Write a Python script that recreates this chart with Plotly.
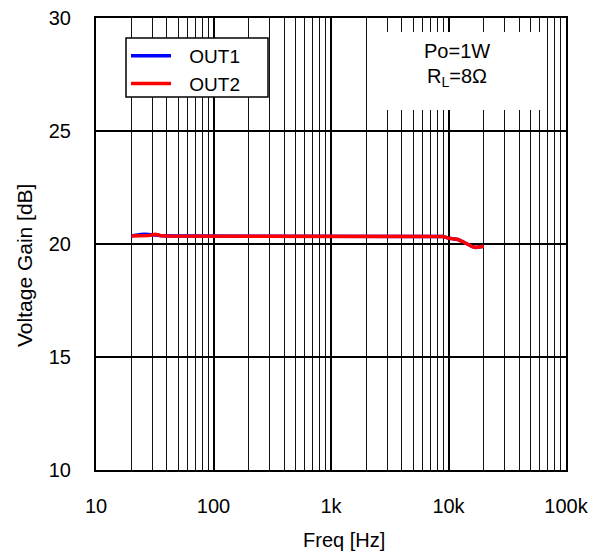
import plotly.graph_objects as go

freq = [20, 22, 24, 26, 28, 30, 32, 34, 36, 40, 50, 63, 80, 100, 200, 500, 1000,
        2000, 5000, 8000, 9000, 10000, 11000, 12000, 13000, 14000, 15000, 16000,
        17000, 18000, 19000, 20000]
out1 = [20.36, 20.40, 20.42, 20.43, 20.42, 20.40, 20.42, 20.39, 20.36, 20.35, 20.35, 20.35,
        20.35, 20.35, 20.35, 20.35, 20.35, 20.35, 20.35, 20.35, 20.33, 20.26, 20.22,
        20.20, 20.12, 20.03, 19.94, 19.88, 19.85, 19.86, 19.88, 19.90]
out2 = [20.35, 20.35, 20.36, 20.37, 20.38, 20.40, 20.43, 20.40, 20.36, 20.35, 20.35, 20.35,
        20.35, 20.35, 20.35, 20.35, 20.35, 20.35, 20.35, 20.35, 20.33, 20.26, 20.22,
        20.20, 20.12, 20.03, 19.94, 19.88, 19.85, 19.86, 19.88, 19.90]
series_names = ["OUT1", "OUT2"]

x_tickvals = [10, 100, 1000, 10000, 100000]
x_ticktext = ["10", "100", "1k", "10k", "100k"]
x_minor = [m * d for d in [10, 100, 1000, 10000] for m in range(2, 10)]
y_tickvals = [10, 15, 20, 25, 30]
x_title = "Freq [Hz]"
y_title = "Voltage Gain [dB]"

font = "Liberation Sans, Arial, sans-serif"

# page body has an 8px margin; figure occupies 592x545 starting at (8, 8)
OFF = 8
W, H = 600 - OFF, 553 - OFF
L, R, T, B = 96 - OFF, 600 - 566, 18 - OFF, 553 - 470
PW, PH = W - L - R, H - T - B


def px_to_paper(x, y):
    return (x - OFF - L) / PW, 1 - (y - OFF - T) / PH


PAD = "\u2002\u2009"  # small visual gap between legend line and label

fig = go.Figure()
fig.add_trace(go.Scatter(x=freq, y=out1, mode="lines", name=PAD + series_names[0],
                         line=dict(color="#0000ff", width=3.5)))
fig.add_trace(go.Scatter(x=freq, y=out2, mode="lines", name=PAD + series_names[1],
                         line=dict(color="#ff0000", width=3.5)))

lx, ly = px_to_paper(126, 37)
fig.update_layout(
    width=W, height=H,
    margin=dict(l=L, r=R, t=T, b=B, autoexpand=False),
    paper_bgcolor="white", plot_bgcolor="white",
    font=dict(family=font, color="black"),
    showlegend=True,
    legend=dict(x=lx, y=ly, xanchor="left", yanchor="top",
                bgcolor="rgba(0,0,0,0)", borderwidth=0,
                font=dict(size=19), tracegroupgap=0, itemwidth=40),
    xaxis=dict(type="log", range=[1, 5], tickvals=x_tickvals, ticktext=x_ticktext,
               showgrid=True, gridcolor="black", gridwidth=1.8,
               minor=dict(tickvals=x_minor, showgrid=True, gridcolor="#111111", gridwidth=1.3),
               showline=True, linecolor="black", linewidth=2, mirror=True,
               ticks="", tickfont=dict(size=20), ticklabelstandoff=17,
               ticklabeloverflow="allow",
               zeroline=False, automargin=False),
    yaxis=dict(range=[10, 30], tickvals=y_tickvals,
               showgrid=True, gridcolor="black", gridwidth=1.8,
               showline=True, linecolor="black", linewidth=2, mirror=True,
               ticks="", tickfont=dict(size=20), ticklabelstandoff=19,
               ticklabeloverflow="allow",
               zeroline=False, automargin=False),
)

# legend frame
gx0, gy0 = px_to_paper(126, 97)
gx1, gy1 = px_to_paper(268, 38)
fig.add_shape(type="rect", xref="paper", yref="paper",
              x0=gx0, x1=gx1, y0=gy0, y1=gy1,
              fillcolor="white", line=dict(color="black", width=1.5), layer="above")

# condition box
bx0, by0 = px_to_paper(377, 110)
bx1, by1 = px_to_paper(541, 32)
fig.add_shape(type="rect", xref="paper", yref="paper",
              x0=bx0, x1=bx1, y0=by0, y1=by1,
              fillcolor="white", line=dict(width=0), layer="above")
ax1, ay1 = px_to_paper(457, 51)
ax2, ay2 = px_to_paper(457, 77)
fig.add_annotation(xref="paper", yref="paper", x=ax1, y=ay1, xanchor="center", yanchor="middle",
                   text="Po=1W", showarrow=False, font=dict(size=20, family=font))
fig.add_annotation(xref="paper", yref="paper", x=ax2, y=ay2, xanchor="center", yanchor="middle",
                   text="R<sub>L</sub>=8Ω", showarrow=False, font=dict(size=20, family=font))

# axis titles
tx, ty = px_to_paper(344, 540)
fig.add_annotation(xref="paper", yref="paper", x=tx, y=ty, xanchor="center", yanchor="middle",
                   text=x_title, showarrow=False, font=dict(size=20, family=font))
vx, vy = px_to_paper(24, 266)
fig.add_annotation(xref="paper", yref="paper", x=vx, y=vy, xanchor="center", yanchor="middle",
                   text=y_title, textangle=-90, showarrow=False, font=dict(size=21, family=font))

fig.write_html("out.html")
